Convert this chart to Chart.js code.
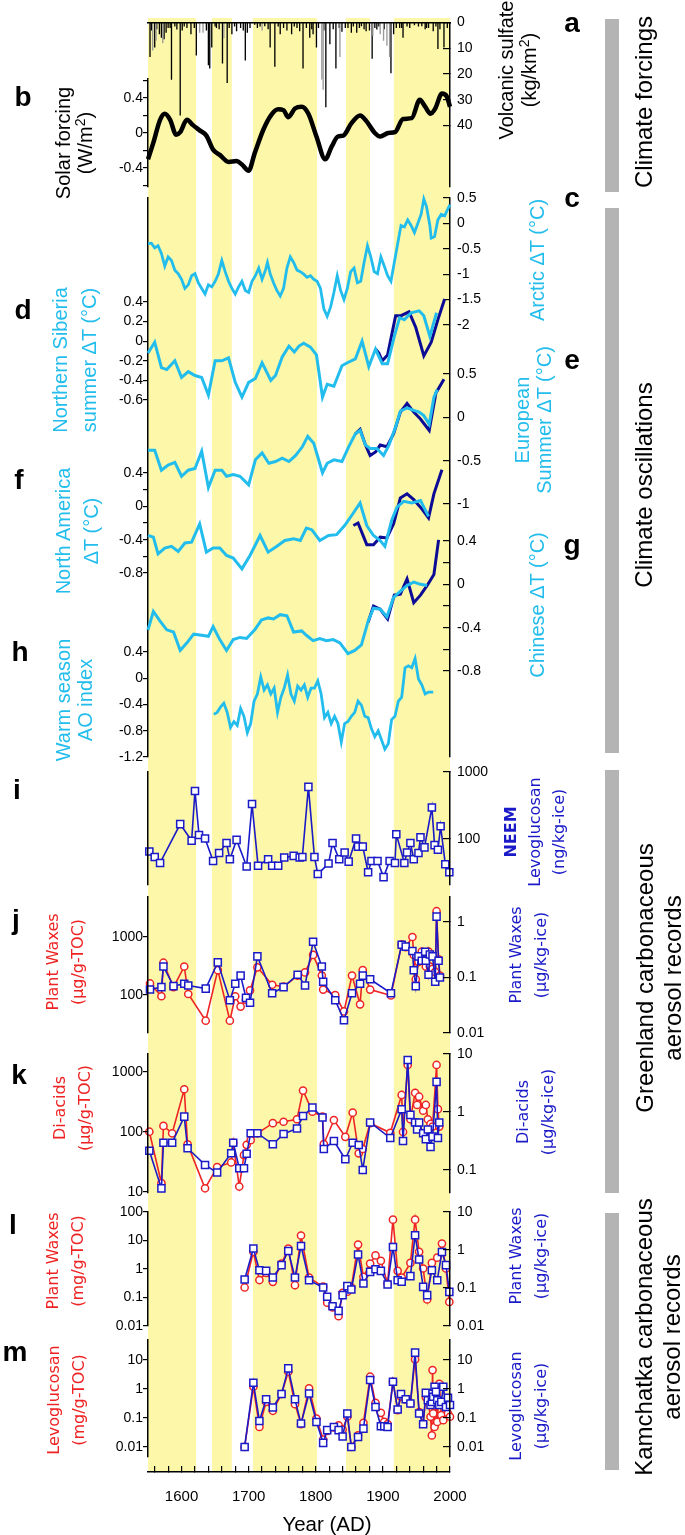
<!DOCTYPE html>
<html>
<head>
<meta charset="utf-8">
<script src="https://cdn.jsdelivr.net/npm/chart.js@4.4.1/dist/chart.umd.min.js"></script>
<style>
  body { margin: 0; background: #fff; }
  #fig { position: relative; width: 685px; height: 1535px; overflow: hidden; font-family: 'Liberation Sans', Arial, sans-serif; }
  #plots canvas { position: absolute; left: 0; top: 0; }
  .rt { position: absolute; white-space: nowrap; text-align: center; transform: translate(-50%, -50%) rotate(-90deg); }
  .hz { position: absolute; white-space: nowrap; transform: translate(-50%, -50%); }
  .let { font-weight: bold; font-size: 28px; }
  .gbar { position: absolute; left: 605px; width: 14px; background: #b4b4b4; }
  .ttl { font-size: 20px; }
  .cy { color: #22bdec; font-size: 20px; }
  .grp { font-size: 24px; line-height: 28px; }
  .dv { font-family: 'DejaVu Sans', sans-serif; font-size: 16px; line-height: 25px; }
  sup { font-size: 0.7em; vertical-align: 0.5em; line-height: 0; }
</style>
</head>
<body>
<div id="fig">
  <div id="plots"></div>

  <!-- panel letters -->
  <div class="hz let" style="left:572px;top:23px">a</div>
  <div class="hz let" style="left:23px;top:97px">b</div>
  <div class="hz let" style="left:572px;top:198px">c</div>
  <div class="hz let" style="left:23px;top:310px">d</div>
  <div class="hz let" style="left:572px;top:360px">e</div>
  <div class="hz let" style="left:19px;top:480px">f</div>
  <div class="hz let" style="left:572px;top:545px">g</div>
  <div class="hz let" style="left:20px;top:652px">h</div>
  <div class="hz let" style="left:17px;top:790px">i</div>
  <div class="hz let" style="left:16px;top:920px">j</div>
  <div class="hz let" style="left:19px;top:1075px">k</div>
  <div class="hz let" style="left:13px;top:1225px">l</div>
  <div class="hz let" style="left:15px;top:1352px">m</div>

  <!-- axis titles -->
  <div class="rt ttl" style="left:518px;top:70px;line-height:23px">Volcanic sulfate<br>(kg/km<sup>2</sup>)</div>
  <div class="rt ttl" style="left:74px;top:143px;line-height:22px">Solar forcing<br>(W/m<sup>2</sup>)</div>
  <div class="rt cy" style="left:537px;top:260px">Arctic ΔT (°C)</div>
  <div class="rt cy" style="left:75px;top:360px;line-height:29px">Northern Siberia<br>summer ΔT (°C)</div>
  <div class="rt cy" style="left:533px;top:420px;line-height:22px">European<br>Summer ΔT (°C)</div>
  <div class="rt cy" style="left:77px;top:531px;line-height:28px">North America<br>ΔT (°C)</div>
  <div class="rt cy" style="left:537px;top:605px">Chinese ΔT (°C)</div>
  <div class="rt cy" style="left:74px;top:700px;line-height:22px">Warm season<br>AO index</div>
  <div class="rt dv" style="left:535px;top:832px;color:#1a1ac8;line-height:24px"><b>NEEM</b><br>Levoglucosan<br>(ng/kg-ice)</div>
  <div class="rt dv" style="left:65px;top:962px;color:#ee2424">Plant Waxes<br>(µg/g-TOC)</div>
  <div class="rt dv" style="left:528px;top:955px;color:#1a1ac8">Plant Waxes<br>(µg/kg-ice)</div>
  <div class="rt dv" style="left:72px;top:1108px;color:#ee2424">Di-acids<br>(µg/g-TOC)</div>
  <div class="rt dv" style="left:535px;top:1112px;color:#1a1ac8">Di-acids<br>(µg/kg-ice)</div>
  <div class="rt dv" style="left:65px;top:1261px;color:#ee2424">Plant Waxes<br>(mg/g-TOC)</div>
  <div class="rt dv" style="left:528px;top:1256px;color:#1a1ac8">Plant Waxes<br>(µg/kg-ice)</div>
  <div class="rt dv" style="left:66px;top:1400px;color:#ee2424">Levoglucosan<br>(mg/g-TOC)</div>
  <div class="rt dv" style="left:528px;top:1406px;color:#1a1ac8">Levoglucosan<br>(µg/kg-ice)</div>
  <div class="hz" style="left:327px;top:1524px;font-size:20.5px">Year (AD)</div>

  <!-- group brackets -->
  <div class="gbar" style="top:19px;height:173px"></div>
  <div class="gbar" style="top:208px;height:545px"></div>
  <div class="gbar" style="top:770px;height:423px"></div>
  <div class="gbar" style="top:1213px;height:257px"></div>
  <div class="rt grp" style="left:644px;top:102px">Climate forcings</div>
  <div class="rt grp" style="left:644px;top:485px">Climate oscillations</div>
  <div class="rt grp" style="left:659px;top:978px">Greenland carbonaceous<br>aerosol records</div>
  <div class="rt grp" style="left:658px;top:1337px">Kamchatka carbonaceous<br>aerosol records</div>
</div>

<script>
// ---- data ----
const bandStart = [1550, 1645, 1706, 1845, 1916];
const bandEnd = [1622, 1675, 1802, 1881, 2000];

const xTickYears = [1560, 1580, 1600, 1620, 1640, 1660, 1680, 1700, 1720, 1740, 1760, 1780, 1800,
  1820, 1840, 1860, 1880, 1900, 1920, 1940, 1960, 1980, 2000];
const xLabelYears = [1600, 1700, 1800, 1900, 2000];

// volcanic sulfate (kg/km2)
const volcYears = [1553, 1555, 1560, 1563, 1567, 1570, 1574, 1577, 1580, 1583, 1585, 1590, 1593, 1598, 1601, 1604,
  1608, 1614, 1619, 1622, 1637, 1640, 1642, 1645, 1650, 1652, 1656, 1661, 1668, 1671, 1675, 1679, 1682, 1688,
  1692, 1695, 1698, 1702, 1709, 1713, 1717, 1724, 1729, 1732, 1739, 1744, 1747, 1752, 1757, 1764, 1768, 1772,
  1776, 1781, 1786, 1791, 1794, 1796, 1801, 1804, 1812, 1815, 1821, 1826, 1830, 1835, 1839, 1844, 1848, 1853,
  1856, 1861, 1865, 1868, 1872, 1875, 1880, 1884, 1888, 1891, 1894, 1902, 1912, 1916, 1920, 1925, 1928, 1930,
  1936, 1940, 1947, 1953, 1958, 1963, 1965, 1968, 1975, 1979, 1982, 1985, 1991, 1996];
const volcSulfate = [13.3, 3, 9.6, 2.5, 4.5, 5.8, 6.4, 3.9, 2, 2, 22.1, 1.5, 2.6, 36, 3, 1.5,
  2, 4.5, 2, 12.7, 3, 16.5, 17.7, 9.6, 1.5, 2, 2.5, 15.8, 23.4, 2, 4.5, 1.5, 3.3, 2,
  3, 14.6, 3.9, 2, 0.8, 2, 1.5, 1.4, 2.5, 9.6, 17.1, 1.5, 4.5, 2, 3, 4.5, 1.5, 2,
  3.3, 17.7, 2, 5.8, 2.5, 4.5, 9.6, 2, 3, 32.8, 8.3, 2.5, 17.7, 2, 3.5, 2, 2, 3.9,
  1.5, 3.9, 2, 1.4, 2.5, 3.3, 3, 14, 2, 2.6, 1.5, 2.5, 19.6, 4.5, 2, 2, 2, 5.8,
  1.5, 2, 1, 1.5, 1.4, 2.5, 2, 2, 3.3, 1.5, 10.2, 2.5, 9.6, 2];
const volcGrayYears = [1557, 1562, 1572, 1627, 1632, 1663, 1720, 1809, 1811, 1836, 1885, 1896, 1901, 1906, 1910];
const volcGray = [10.8, 7, 8, 3.9, 3.9, 6, 3, 22, 26, 13.3, 5, 4.5, 7, 8.9, 13.3];

// solar forcing (W/m2)
const solarYears = [1550, 1558, 1568, 1575, 1583, 1592, 1598, 1608, 1617, 1627, 1637, 1647, 1657, 1670, 1682, 1690,
  1700, 1709, 1722, 1734, 1744, 1752, 1759, 1769, 1779, 1789, 1801, 1814, 1824, 1833, 1841, 1853, 1866, 1876,
  1888, 1896, 1908, 1918, 1930, 1943, 1955, 1963, 1971, 1978, 1988, 1995, 2000];
const solarForcing = [-0.30, -0.11, 0.15, 0.22, 0.15, -0.02, 0.01, 0.15, 0.09, 0.03, -0.03, -0.19, -0.25, -0.33, -0.32, -0.36,
  -0.43, -0.23, 0.04, 0.21, 0.27, 0.26, 0.18, 0.28, 0.30, 0.22, -0.04, -0.30, -0.15, -0.04, -0.03, 0.11, 0.20, 0.13,
  0.0, -0.04, 0.0, 0.01, 0.16, 0.17, 0.38, 0.30, 0.22, 0.28, 0.45, 0.42, 0.30];

// Arctic dT
const arcticYears = [1550, 1555, 1560, 1565, 1570, 1575, 1580, 1585, 1590, 1595, 1600, 1605, 1610, 1615, 1620, 1625,
  1630, 1635, 1640, 1645, 1650, 1655, 1660, 1665, 1670, 1675, 1680, 1685, 1690, 1695, 1700, 1705, 1710, 1715,
  1720, 1725, 1728, 1732, 1737, 1742, 1747, 1752, 1757, 1762, 1767, 1772, 1777, 1782, 1787, 1792, 1797, 1802,
  1807, 1812, 1817, 1822, 1827, 1832, 1837, 1842, 1847, 1852, 1857, 1862, 1867, 1872, 1877, 1882, 1887, 1892,
  1897, 1902, 1907, 1912, 1917, 1922, 1927, 1932, 1937, 1942, 1947, 1952, 1957, 1961, 1965, 1970, 1972, 1977,
  1982, 1987, 1992, 1997, 2000];
const arcticT = [-0.40, -0.39, -0.48, -0.44, -0.59, -0.84, -0.66, -0.73, -0.92, -0.99, -1.10, -1.28, -1.21, -1.03, -0.99, -1.17,
  -1.28, -1.39, -1.21, -1.25, -1.14, -0.99, -0.73, -0.95, -1.14, -1.28, -1.39, -1.25, -1.14, -1.32, -1.36, -1.14, -1.03, -0.88,
  -1.10, -0.92, -0.77, -0.99, -1.17, -1.32, -1.43, -1.28, -0.88, -0.66, -0.77, -0.92, -0.95, -1.00, -1.06, -1.03, -1.10, -1.14,
  -1.28, -1.68, -1.83, -1.65, -1.36, -1.03, -1.32, -1.50, -1.28, -0.95, -0.88, -1.17, -1.14, -0.77, -0.44, -0.66, -0.95, -0.99,
  -0.66, -0.84, -1.03, -1.14, -0.77, -0.40, -0.04, -0.07, 0.07, -0.04, -0.18, 0.0, 0.18, 0.48, 0.33, -0.04, -0.29, -0.26,
  0.07, 0.18, 0.15, 0.29, 0.37];

// Northern Siberia summer dT
const sibYears = [1550, 1560, 1570, 1578, 1590, 1600, 1610, 1620, 1630, 1640, 1650, 1660, 1670, 1680, 1690, 1700,
  1710, 1720, 1733, 1740, 1750, 1760, 1768, 1775, 1782, 1792, 1801, 1810, 1817, 1827, 1839, 1847, 1859, 1869,
  1879, 1889, 1899, 1907, 1917, 1925, 1932, 1942, 1954, 1961, 1970, 1980];
const sibT = [-0.12, -0.01, -0.27, -0.29, -0.20, -0.37, -0.31, -0.35, -0.37, -0.55, -0.20, -0.20, -0.17, -0.42, -0.57, -0.42,
  -0.38, -0.22, -0.40, -0.35, -0.16, -0.05, -0.11, -0.05, -0.02, -0.06, -0.14, -0.57, -0.44, -0.46, -0.25, -0.22, -0.18, 0.0,
  -0.26, -0.08, -0.23, -0.23, 0.05, 0.24, 0.22, 0.29, 0.31, 0.26, 0.05, 0.29];
const sibObsYears = [1889, 1894, 1899, 1907, 1919, 1927, 1939, 1949, 1961, 1972, 1982, 1992];
const sibObsT = [-0.08, -0.12, -0.20, -0.14, 0.26, 0.26, 0.30, 0.14, -0.15, -0.01, 0.22, 0.43];

// European summer dT
const eurYears = [1550, 1560, 1570, 1580, 1590, 1600, 1610, 1620, 1630, 1640, 1650, 1660, 1667, 1677, 1687, 1700,
  1710, 1720, 1730, 1740, 1750, 1760, 1770, 1780, 1788, 1797, 1810, 1817, 1827, 1839, 1849, 1859, 1866, 1874,
  1881, 1891, 1901, 1909, 1919, 1926, 1936, 1946, 1954, 1961, 1969, 1976, 1981];
const eurT = [-0.38, -0.38, -0.61, -0.55, -0.52, -0.68, -0.61, -0.59, -0.39, -0.81, -0.61, -0.61, -0.68, -0.66, -0.68, -0.78,
  -0.49, -0.41, -0.53, -0.51, -0.47, -0.51, -0.44, -0.34, -0.22, -0.30, -0.64, -0.53, -0.49, -0.51, -0.34, -0.19, -0.15, -0.32,
  -0.36, -0.36, -0.44, -0.32, -0.11, 0.07, 0.11, 0.08, 0.06, 0.02, -0.08, 0.23, 0.32];
const eurObsYears = [1859, 1866, 1874, 1881, 1889, 1896, 1906, 1916, 1926, 1936, 1946, 1956, 1969, 1979, 1991];
const eurObsT = [-0.19, -0.14, -0.32, -0.44, -0.40, -0.32, -0.34, -0.19, 0.06, 0.16, 0.06, -0.02, -0.15, 0.28, 0.44];

// North America dT
const namYears = [1550, 1558, 1565, 1575, 1585, 1595, 1605, 1615, 1627, 1637, 1647, 1657, 1667, 1677, 1690, 1702,
  1717, 1729, 1742, 1754, 1767, 1777, 1786, 1794, 1806, 1819, 1831, 1843, 1856, 1866, 1876, 1886, 1896, 1903,
  1913, 1921, 1931, 1943, 1956, 1968];
const namT = [-0.35, -0.37, -0.57, -0.50, -0.48, -0.54, -0.44, -0.43, -0.21, -0.55, -0.50, -0.50, -0.59, -0.62, -0.75, -0.59,
  -0.35, -0.55, -0.48, -0.41, -0.39, -0.41, -0.26, -0.28, -0.41, -0.35, -0.34, -0.23, -0.08, 0.04, -0.23, -0.35, -0.41, -0.48,
  -0.17, -0.01, 0.06, 0.04, 0.07, -0.12];
const namObsYears = [1856, 1863, 1876, 1886, 1896, 1906, 1916, 1926, 1936, 1946, 1958, 1968, 1976, 1988];
const namObsT = [-0.23, -0.20, -0.46, -0.46, -0.37, -0.38, -0.21, 0.10, 0.15, 0.08, -0.03, -0.14, 0.15, 0.44];

// Chinese dT
const chnYears = [1550, 1558, 1568, 1578, 1588, 1598, 1608, 1618, 1630, 1640, 1647, 1657, 1667, 1677, 1687, 1697,
  1709, 1719, 1729, 1737, 1747, 1757, 1767, 1779, 1786, 1796, 1806, 1816, 1826, 1836, 1848, 1858, 1868, 1878,
  1886, 1896, 1906, 1916, 1923, 1936, 1946, 1956, 1966];
const chnT = [-0.42, -0.25, -0.34, -0.42, -0.44, -0.61, -0.54, -0.46, -0.47, -0.48, -0.39, -0.51, -0.61, -0.51, -0.49, -0.50,
  -0.42, -0.33, -0.31, -0.32, -0.28, -0.29, -0.44, -0.43, -0.47, -0.52, -0.50, -0.52, -0.51, -0.54, -0.64, -0.61, -0.56, -0.34,
  -0.22, -0.23, -0.30, -0.12, -0.08, -0.01, 0.02, 0.0, -0.01];
const chnObsYears = [1878, 1886, 1896, 1907, 1917, 1926, 1936, 1946, 1956, 1966, 1976, 1983];
const chnObsT = [-0.35, -0.20, -0.23, -0.32, -0.10, -0.09, 0.05, -0.17, -0.10, -0.01, 0.09, 0.41];

// warm season AO index
const aoYears = [1648, 1653, 1658, 1663, 1668, 1673, 1678, 1683, 1688, 1693, 1698, 1703, 1708, 1713, 1718, 1723,
  1728, 1733, 1738, 1743, 1748, 1753, 1758, 1763, 1768, 1773, 1778, 1783, 1788, 1793, 1798, 1803, 1808, 1813,
  1818, 1823, 1828, 1833, 1838, 1843, 1848, 1853, 1858, 1863, 1868, 1873, 1878, 1883, 1888, 1893, 1898, 1903,
  1908, 1913, 1918, 1923, 1928, 1933, 1938, 1943, 1948, 1953, 1958, 1963, 1968, 1973, 1975];
const aoIndex = [-0.55, -0.52, -0.44, -0.38, -0.52, -0.75, -0.66, -0.72, -0.46, -0.58, -0.83, -0.69, -0.35, -0.24, 0.02, -0.18,
  -0.10, -0.24, -0.15, -0.52, -0.29, -0.15, 0.05, -0.24, -0.35, -0.12, -0.18, -0.10, -0.29, -0.15, -0.15, -0.04, -0.24, -0.60,
  -0.52, -0.69, -0.58, -0.69, -0.97, -0.69, -0.66, -0.58, -0.52, -0.35, -0.41, -0.58, -0.60, -0.77, -0.89, -0.80, -0.94, -1.08,
  -1.00, -0.63, -0.58, -0.35, -0.29, 0.16, 0.19, 0.16, 0.30, -0.01, -0.10, -0.24, -0.21, -0.21, -0.21];

// NEEM levoglucosan (ng/kg-ice)
const neemYears = [1552, 1560, 1568, 1598, 1615, 1620, 1626, 1635, 1647, 1656, 1667, 1672, 1682, 1697, 1705, 1714,
  1729, 1735, 1744, 1753, 1767, 1776, 1780, 1789, 1798, 1803, 1819, 1825, 1835, 1843, 1849, 1860, 1863, 1870,
  1878, 1883, 1892, 1901, 1910, 1918, 1920, 1932, 1936, 1941, 1946, 1953, 1956, 1962, 1973, 1977, 1982, 1986,
  1993, 1999];
const neemLevo = [65, 54, 44, 167, 94, 520, 115, 102, 47, 62, 87, 50, 97, 39, 333, 40,
  50, 40, 40, 53, 56, 53, 54, 600, 54, 30, 43, 87, 50, 63, 46, 102, 77, 77,
  32, 47, 47, 27, 47, 44, 118, 44, 63, 87, 50, 62, 106, 75, 296, 81, 69, 155,
  42, 32];

// Greenland plant waxes
const gPwYears = [1553, 1570, 1573, 1588, 1604, 1610, 1636, 1654, 1672, 1680, 1688, 1696, 1702, 1713, 1735, 1752,
  1773, 1784, 1796, 1809, 1811, 1829, 1842, 1854, 1866, 1870, 1881, 1912, 1928, 1934, 1944, 1946, 1949, 1953,
  1958, 1963, 1964, 1968, 1970, 1974, 1978, 1980, 1983, 1985];
const gPwToc = [158, 95, 360, 136, 310, 104, 36, 268, 36, 95, 63, 83, 120, 300, 150, 139,
  216, 245, 490, 216, 124, 100, 52, 216, 69, 268, 124, 98, 745, 670, 1000, 490, 187, 373,
  560, 540, 310, 560, 310, 283, 250, 2780, 410, 215];
const gPwIce = [0.061, 0.067, 0.158, 0.070, 0.077, 0.072, 0.063, 0.187, 0.039, 0.077, 0.108, 0.043, 0.035, 0.24, 0.052, 0.067,
  0.112, 0.072, 0.44, 0.158, 0.084, 0.039, 0.017, 0.052, 0.077, 0.108, 0.093, 0.052, 0.39, 0.36, 0.30, 0.135, 0.070, 0.24,
  0.20, 0.29, 0.20, 0.112, 0.26, 0.24, 0.084, 1.25, 0.20, 0.10];

// Greenland di-acids
const gDaYears = [1552, 1570, 1573, 1586, 1604, 1609, 1635, 1653, 1674, 1677, 1686, 1693, 1697, 1703, 1713, 1736,
  1752, 1772, 1781, 1795, 1810, 1812, 1827, 1844, 1855, 1864, 1870, 1881, 1911, 1928, 1930, 1937, 1941, 1948,
  1951, 1954, 1960, 1964, 1967, 1971, 1974, 1980, 1982, 1984];
const gDaToc = [101, 14, 126, 95, 515, 62, 11.5, 26, 31, 66, 12.3, 41, 61, 73, 95, 140,
  148, 163, 490, 218, 180, 63, 158, 83, 210, 44, 52, 140, 97, 414, 100, 1310, 163, 450,
  282, 387, 226, 282, 163, 136, 123, 1310, 240, 123];
const gDaIce = [0.215, 0.048, 0.295, 0.295, 0.83, 0.237, 0.122, 0.090, 0.194, 0.295, 0.107, 0.107, 0.19, 0.43, 0.43, 0.277,
  0.417, 0.52, 0.85, 1.19, 0.80, 0.23, 0.316, 0.153, 0.295, 0.27, 0.1, 0.66, 0.355, 1.11, 0.316, 7.9, 0.89, 0.66,
  0.50, 0.66, 0.43, 0.34, 0.50, 0.25, 0.375, 3.3, 0.355, 0.66];

// Kamchatka plant waxes
const kPwYears = [1694, 1707, 1716, 1726, 1736, 1749, 1759, 1769, 1778, 1790, 1811, 1817, 1825, 1834, 1840, 1847,
  1853, 1863, 1871, 1881, 1889, 1897, 1907, 1915, 1922, 1928, 1941, 1948, 1954, 1960, 1966, 1973, 1981, 1988,
  1994, 1999];
const kPwToc = [0.225, 4.0, 0.41, 0.73, 0.355, 1.55, 5.2, 0.27, 15, 0.50, 0.24, 0.066, 0.045, 0.022, 0.147, 0.16,
  0.225, 7.2, 0.53, 1.55, 3.0, 1.93, 0.31, 54, 0.86, 0.50, 1.64, 54, 4.0, 1.04, 0.085, 1.64, 2.5, 7.8,
  1.04, 0.07];
const kPwIce = [0.168, 1.09, 0.294, 0.282, 0.189, 0.40, 0.946, 0.189, 1.28, 0.16, 0.103, 0.059, 0.033, 0.025, 0.065, 0.112,
  0.091, 0.76, 0.132, 0.266, 0.313, 0.282, 0.124, 1.2, 0.16, 0.146, 0.205, 2.44, 0.56, 0.107, 0.065, 0.294, 0.16, 0.89,
  0.40, 0.079];

// Kamchatka levoglucosan
const kLvYears = [1694, 1707, 1716, 1726, 1736, 1749, 1759, 1769, 1778, 1790, 1801, 1811, 1817, 1827, 1834, 1840,
  1847, 1853, 1863, 1871, 1881, 1889, 1897, 1902, 1907, 1915, 1922, 1927, 1934, 1941, 1948, 1954, 1960, 1964,
  1967, 1971, 1973, 1974, 1975, 1977, 1979, 1981, 1984, 1987, 1990, 1994, 1997, 2000];
const kLvToc = [0.01, 1.19, 0.049, 0.36, 0.177, 0.67, 3.95, 0.30, 0.061, 1.05, 0.096, 0.018, 0.036, 0.047, 0.056, 0.040,
  0.11, 0.01, 0.025, 0.068, 2.65, 0.33, 0.15, 0.073, 0.061, 1.78, 0.186, 0.54, 0.44, 0.316, 10.5, 0.16, 0.064, 0.52,
  0.41, 0.11, 0.025, 4.5, 0.143, 0.049, 0.33, 0.073, 1.5, 0.126, 0.084, 0.316, 0.143, 0.11];
const kLvIce = [0.01, 1.64, 0.079, 0.44, 0.23, 0.67, 5.15, 0.44, 0.064, 0.70, 0.073, 0.0138, 0.038, 0.049, 0.038, 0.023,
  0.143, 0.01, 0.022, 0.043, 2.03, 0.24, 0.052, 0.052, 0.049, 1.78, 0.196, 0.67, 0.44, 0.316, 18, 0.143, 0.061, 0.74,
  0.41, 0.28, 0.36, 0.7, 0.54, 1.19, 0.80, 0.41, 0.28, 0.36, 1.2, 0.24, 0.5, 0.28];

// ---- drawing ----
const W = 685, H = 1535, LEFT = 148, RIGHT = 450;
const CYAN = '#22bdec', NAVY = '#0b0b96', BLUE = '#1a1ac8', RED = '#ee2424', YELLOW = '#fcf7a9';
const TICK_FONT = { family: "'Liberation Sans', Arial, sans-serif", size: 14 };
const plots = document.getElementById('plots');

const pts = (xs, ys) => xs.map((x, i) => ({ x: x, y: ys[i] }));

// grid (tick marks) is drawn before the border so the border knows its position
function sideAxis(position, o) {
  o = o || {};
  const right = position === 'right';
  const hasTicks = !!o.ticks;
  return {
    type: o.log ? 'logarithmic' : 'linear',
    position: position,
    display: true,
    min: o.min, max: o.max,
    reverse: !!o.reverse,
    afterFit: s => { s.width = right ? W - RIGHT : LEFT; },
    afterBuildTicks: s => { s.ticks = (o.ticks || []).map(v => ({ value: v })); },
    ticks: {
      display: hasTicks,
      color: '#000',
      font: TICK_FONT,
      padding: right ? 14 : 0,
      autoSkip: false,
      z: 3,
      callback: v => (!o.labels || o.labels.includes(v)) ? String(v) : ''
    },
    grid: {
      display: hasTicks,
      drawOnChartArea: false,
      drawTicks: true,
      tickLength: right ? -7 : 5,
      color: '#000',
      lineWidth: 1.2,
      z: 1
    },
    border: { display: !!o.border, color: '#000', width: 1.5, z: 2 }
  };
}

const hiddenX = { type: 'linear', min: 1550, max: 2000, display: false, offset: false };

function panel(top, bottom, scales, datasets) {
  const c = document.createElement('canvas');
  c.width = W;
  c.height = H;
  plots.appendChild(c);
  return new Chart(c, {
    type: 'line',
    data: { datasets: datasets },
    options: {
      responsive: false,
      animation: false,
      devicePixelRatio: 1,
      events: [],
      layout: { padding: { top: top, bottom: H - bottom, left: 0, right: 0 } },
      plugins: { legend: { display: false }, tooltip: { enabled: false } },
      scales: Object.assign({ x: hiddenX }, scales)
    }
  });
}

function curve(xs, ys, color, width, axisId) {
  return {
    data: pts(xs, ys), yAxisID: axisId, borderColor: color, borderWidth: width,
    pointRadius: 0, fill: false, tension: 0, clip: false
  };
}

function markers(xs, ys, color, style, axisId) {
  return {
    data: pts(xs, ys), yAxisID: axisId, borderColor: color, borderWidth: 1.6,
    pointStyle: style, pointRadius: style === 'rect' ? 5 : 3.6,
    pointBorderColor: color, pointBackgroundColor: '#fff', pointBorderWidth: 1.5,
    fill: false, tension: 0, clip: false
  };
}

// yellow periods + bottom year axis (axis box is 40px tall, chart area ends at 1472)
panel(18, 1512, {
  x: {
    type: 'linear', position: 'bottom', min: 1550, max: 2000, offset: false,
    afterFit: s => { s.height = 40; },
    afterBuildTicks: s => { s.ticks = xTickYears.map(v => ({ value: v })); },
    ticks: {
      color: '#000', font: { family: "'Liberation Sans', Arial, sans-serif", size: 15 }, padding: 22,
      maxRotation: 0, autoSkip: false, z: 3, callback: v => xLabelYears.includes(v) ? String(v) : ''
    },
    grid: { drawOnChartArea: false, tickLength: -6, color: '#000', lineWidth: 1.2, z: 1 },
    border: { display: true, color: '#000', width: 1.5, z: 2 }
  },
  yl: sideAxis('left', { min: 0, max: 1 }),
  yr: sideAxis('right')
}, bandStart.map((s, i) => ({
  data: [{ x: s, y: 1 }, { x: bandEnd[i], y: 1 }], yAxisID: 'yl',
  borderWidth: 0, pointRadius: 0, fill: 'origin', backgroundColor: YELLOW
})));

// a: volcanic sulfate
panel(18, 187, {
  x: {
    type: 'linear', position: 'top', min: 1550, max: 2000, offset: false,
    afterFit: s => { s.height = 0; },
    ticks: { display: false }, grid: { display: false, offset: false, z: 1 },
    border: { display: true, color: '#000', width: 1.5, z: 2 }
  },
  yl: sideAxis('left'),
  yr: sideAxis('right', { min: 0, max: 63.8, reverse: true, ticks: [0, 10, 20, 30, 40], border: true })
}, [
  { type: 'bar', data: pts(volcGrayYears, volcGray), yAxisID: 'yr', backgroundColor: '#999', grouped: false, barPercentage: 1, categoryPercentage: 1, maxBarThickness: 1.5 },
  { type: 'bar', data: pts(volcYears, volcSulfate), yAxisID: 'yr', backgroundColor: '#000', grouped: false, barPercentage: 1, categoryPercentage: 1, maxBarThickness: 1.5 }
]);

// b: solar forcing
panel(79, 187, {
  yl: sideAxis('left', { min: -0.617, max: 0.617, ticks: [-0.6, -0.4, -0.2, 0, 0.2, 0.4, 0.6], labels: [-0.4, 0, 0.4], border: true }),
  yr: sideAxis('right')
}, [
  Object.assign(curve(solarYears, solarForcing, '#000', 4.5, 'yl'), { tension: 0.4, cubicInterpolationMode: 'monotone' })
]);

// frame around c-h
panel(198, 757, {
  yl: sideAxis('left', { min: 0, max: 1, border: true }),
  yr: sideAxis('right', { min: 0, max: 1, border: true })
}, []);

// c: Arctic
panel(198, 325, {
  yl: sideAxis('left'),
  yr: sideAxis('right', { min: -2, max: 0.5, ticks: [-2, -1.5, -1, -0.5, 0, 0.5] })
}, [curve(arcticYears, arcticT, CYAN, 2.8, 'yr')]);

// d: Northern Siberia
panel(302, 400, {
  yl: sideAxis('left', { min: -0.6, max: 0.4, ticks: [-0.6, -0.4, -0.2, 0, 0.2, 0.4] }),
  yr: sideAxis('right')
}, [curve(sibYears, sibT, CYAN, 3, 'yl'), curve(sibObsYears, sibObsT, NAVY, 3, 'yl')]);

// e: European summer
panel(374, 504, {
  yl: sideAxis('left'),
  yr: sideAxis('right', { min: -1, max: 0.5, ticks: [-1, -0.5, 0, 0.5] })
}, [curve(eurYears, eurT, CYAN, 3, 'yr'), curve(eurObsYears, eurObsT, NAVY, 3, 'yr')]);

// f: North America
panel(473, 573, {
  yl: sideAxis('left', { min: -0.8, max: 0.4, ticks: [-0.8, -0.6, -0.4, -0.2, 0, 0.2, 0.4], labels: [-0.8, -0.4, 0, 0.4] }),
  yr: sideAxis('right')
}, [curve(namYears, namT, CYAN, 3, 'yl'), curve(namObsYears, namObsT, NAVY, 3, 'yl')]);

// g: Chinese
panel(541, 671, {
  yl: sideAxis('left'),
  yr: sideAxis('right', { min: -0.8, max: 0.4, ticks: [-0.8, -0.6, -0.4, -0.2, 0, 0.2, 0.4], labels: [-0.8, -0.4, 0, 0.4] })
}, [curve(chnYears, chnT, CYAN, 3, 'yr'), curve(chnObsYears, chnObsT, NAVY, 3, 'yr')]);

// h: warm season AO
panel(652, 757, {
  yl: sideAxis('left', { min: -1.2, max: 0.4, ticks: [-1.2, -0.8, -0.4, 0, 0.4] }),
  yr: sideAxis('right')
}, [curve(aoYears, aoIndex, CYAN, 2.8, 'yl')]);

// i: NEEM levoglucosan
panel(772, 885, {
  yl: sideAxis('left', { min: 0, max: 1, border: true }),
  yr: sideAxis('right', { log: true, min: 20.6, max: 1000, ticks: [100, 1000], border: true })
}, [markers(neemYears, neemLevo, BLUE, 'rect', 'yr')]);

// j: Greenland plant waxes
panel(897, 1033, {
  yl: sideAxis('left', { log: true, min: 22.1, max: 4890, ticks: [100, 1000], border: true }),
  yr: sideAxis('right', { log: true, min: 0.01, max: 2.82, ticks: [0.01, 0.1, 1], border: true })
}, [markers(gPwYears, gPwIce, BLUE, 'rect', 'yr'), markers(gPwYears, gPwToc, RED, 'circle', 'yl')]);

// k: Greenland di-acids
panel(1054, 1193, {
  yl: sideAxis('left', { log: true, min: 9.6, max: 1995, ticks: [10, 100, 1000], border: true }),
  yr: sideAxis('right', { log: true, min: 0.04, max: 10, ticks: [0.1, 1, 10], border: true })
}, [markers(gDaYears, gDaIce, BLUE, 'rect', 'yr'), markers(gDaYears, gDaToc, RED, 'circle', 'yl')]);

// l: Kamchatka plant waxes
panel(1212, 1326, {
  yl: sideAxis('left', { log: true, min: 0.01, max: 100, ticks: [0.01, 0.1, 1, 10, 100], border: true }),
  yr: sideAxis('right', { log: true, min: 0.01, max: 10, ticks: [0.01, 0.1, 1, 10], border: true })
}, [markers(kPwYears, kPwIce, BLUE, 'rect', 'yr'), markers(kPwYears, kPwToc, RED, 'circle', 'yl')]);

// m: Kamchatka levoglucosan
panel(1340, 1457, {
  yl: sideAxis('left', { log: true, min: 0.0045, max: 49, ticks: [0.01, 0.1, 1, 10], border: true }),
  yr: sideAxis('right', { log: true, min: 0.0045, max: 49, ticks: [0.01, 0.1, 1, 10], border: true })
}, [markers(kLvYears, kLvIce, BLUE, 'rect', 'yr'), markers(kLvYears, kLvToc, RED, 'circle', 'yl')]);
</script>
</body>
</html>
